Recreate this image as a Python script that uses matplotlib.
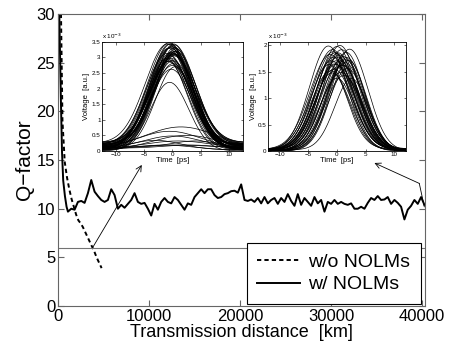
import numpy as np
import matplotlib
matplotlib.use("Agg")
import matplotlib.pyplot as plt
from matplotlib.ticker import FuncFormatter

plt.rcParams["font.family"] = ["Liberation Sans", "DejaVu Sans"]

# Q-factor sans NOLM (courbe pointillée)
dist_wo = [0, 250, 500, 750, 1000, 1250, 1500, 1750, 2000, 2250,
           2500, 2750, 3000, 3250, 3500, 3750, 4000, 4250, 4500, 4800]
q_wo = [60, 36, 19, 14.8, 13.2, 12.0, 11.0, 10.2, 9.4, 8.8,
        8.5, 8.1, 7.6, 7.1, 6.6, 6.1, 5.6, 5.0, 4.5, 3.9]

# Q-factor avec NOLM : début de la décroissance puis échantillons réguliers
dist_w_head = [0, 150, 330, 450, 580, 770, 950]
q_w_head = [45, 30, 21, 15.8, 12.9, 11.3, 10.2]
start_w = 1100
step_w = 366
q_w_tail = [
    9.7, 10.0, 9.9, 10.7, 10.8, 10.6, 11.6, 12.95, 11.75, 11.3,
    10.9, 10.7, 10.9, 12.0, 11.4, 10.0, 10.4, 10.1, 10.5, 10.9,
    11.6, 10.7, 10.5, 10.6, 10.0, 9.3, 10.5, 9.9, 10.7, 11.1,
    10.7, 10.55, 11.2, 10.9, 10.4, 9.9, 10.55, 10.4, 11.2, 11.6,
    12.0, 11.6, 12.0, 12.0, 11.4, 11.1, 11.2, 11.5, 11.6, 11.8,
    11.85, 11.65, 12.5, 10.9, 10.8, 10.95, 10.7, 11.1, 10.55, 11.2,
    10.55, 10.9, 11.1, 10.5, 11.1, 10.7, 11.5, 10.8, 10.3, 11.5,
    10.4, 11.1, 10.7, 10.3, 11.2, 10.55, 10.9, 9.7, 10.7, 10.5,
    10.9, 10.5, 10.7, 10.5, 10.4, 10.55, 10.0, 10.0, 10.2, 10.0,
    10.6, 11.1, 10.9, 11.3, 10.9, 10.95, 11.2, 10.5, 10.9, 10.6,
    10.2, 8.9, 9.9, 10.3, 10.9, 10.5, 11.2, 10.4,
]
dist_w = dist_w_head + [start_w + i * step_w for i in range(len(q_w_tail))]
q_w = q_w_head + q_w_tail

q_limit = 6

# Impulsions (inset gauche) : amplitude, centre [ps], largeur [ps], piédestal  (unités 1e-3)
left_amp = [3.38, 3.31, 3.27, 3.24, 3.20, 3.18, 3.15, 3.13, 3.10, 3.07, 3.05, 3.02,
            3.00, 2.97, 2.95, 2.92, 2.90, 2.87, 2.84, 2.80, 2.76, 2.72, 2.68, 2.63,
            2.58, 2.52, 3.35, 3.22, 3.09, 2.98, 2.86, 2.78, 3.16, 3.04, 2.93, 2.70,
            2.20,
            0.72, 0.55, 0.48, 0.38, 0.30, 0.26, 0.20, 0.16, 0.12, 0.10]
left_ctr = [-0.3, 0.2, -0.6, 0.4, -0.1, -0.9, 0.5, -0.4, 0.1, -0.7, 0.3, -0.2,
            0.6, -0.5, 0.0, -1.0, 0.4, -0.3, 0.2, -0.8, 0.1, -0.4, 0.5, -0.6,
            0.0, -0.2, -0.5, 0.3, -0.1, 0.6, -0.7, 0.2, -0.3, 0.4, -0.9, 0.1,
            -0.5,
            1.5, -0.5, 2.5, 0.0, -3.0, 1.0, 4.0, -1.5, 0.5, 3.0]
left_sig = [3.7, 3.6, 3.8, 3.5, 3.7, 3.9, 3.6, 3.8, 3.5, 3.7, 3.6, 3.9,
            3.5, 3.7, 3.8, 3.6, 3.7, 3.5, 3.9, 3.6, 3.8, 3.7, 3.5, 3.6,
            3.8, 3.7, 3.6, 3.8, 3.5, 3.7, 3.6, 3.9, 3.7, 3.5, 3.8, 3.6,
            3.4,
            6.5, 5.5, 6.0, 5.0, 4.5, 6.0, 4.0, 5.0, 7.0, 4.5]
left_base = [0.05, 0.12, 0.20, 0.08, 0.15, 0.25, 0.03, 0.18, 0.10, 0.22, 0.06, 0.14,
             0.28, 0.09, 0.17, 0.04, 0.21, 0.11, 0.26, 0.07, 0.13, 0.19, 0.02, 0.24,
             0.16, 0.10, 0.08, 0.18, 0.05, 0.22, 0.12, 0.27, 0.15, 0.03, 0.20, 0.10,
             0.0,
             0.05, 0.08, 0.02, 0.10, 0.04, 0.06, 0.12, 0.03, 0.07, 0.09]

# Impulsions (inset droit)
right_amp = [1.98, 1.95, 1.93, 1.90, 1.88, 1.86, 1.84, 1.82, 1.80, 1.78, 1.76, 1.74,
             1.72, 1.70, 1.68, 1.66, 1.64, 1.62, 1.60, 1.58, 1.55, 1.52, 1.49, 1.46,
             1.42, 1.38, 1.35, 1.97, 1.87, 1.77, 1.69, 1.59, 1.51, 1.83, 1.73, 1.63]
right_ctr = [-1.5, 0.0, 2.2, -0.8, 0.8, 1.6, -0.3, 0.4, -1.2, 1.1, 0.1, -0.6,
             2.0, 0.6, -1.0, 1.4, -0.2, 0.9, -1.4, 0.3, 1.8, -0.5, 0.7, -0.9,
             1.2, 0.0, 2.5, 0.5, -0.7, 1.7, -0.1, 1.0, -1.1, 0.2, 1.5, -0.4]
right_sig = [3.3, 3.4, 3.2, 3.5, 3.3, 3.1, 3.4, 3.2, 3.5, 3.3, 3.4, 3.2,
             3.1, 3.3, 3.5, 3.2, 3.4, 3.3, 3.1, 3.4, 3.2, 3.3, 3.5, 3.1,
             3.3, 3.0, 2.9, 3.3, 3.4, 3.2, 3.3, 3.1, 3.4, 3.2, 3.3, 3.5]
right_base = [0.01, 0.03, 0.00, 0.02, 0.04, 0.01, 0.02, 0.00, 0.03, 0.01, 0.02, 0.04,
              0.00, 0.01, 0.03, 0.02, 0.00, 0.01, 0.04, 0.02, 0.01, 0.03, 0.00, 0.02,
              0.01, 0.00, 0.02, 0.03, 0.01, 0.00, 0.02, 0.04, 0.01, 0.03, 0.00, 0.02]


def draw_pulses(axi, amps, ctrs, sigs, bases, t_lim):
    t = np.linspace(-t_lim, t_lim, 300)
    for a, c, s, b in zip(amps, ctrs, sigs, bases):
        v = (b + a * np.exp(-(t - c) ** 2 / (2 * s ** 2))) * 1e-3
        axi.plot(t, v, color="k", lw=0.5)


def style_inset(axi, t_lim, v_top, v_ticks):
    axi.set_xlim(-t_lim, t_lim)
    axi.set_ylim(0, v_top * 1e-3)
    axi.set_xticks([-10, -5, 0, 5, 10])
    axi.set_yticks([v * 1e-3 for v in v_ticks])
    axi.yaxis.set_major_formatter(FuncFormatter(lambda v, _: "%g" % round(v * 1e3, 2)))
    axi.tick_params(direction="in", top=True, right=True, labelsize=4.5,
                    length=1.8, width=0.4, pad=1)
    for s in axi.spines.values():
        s.set_linewidth(0.6)
    axi.set_xlabel("Time  [ps]", fontsize=5.5, labelpad=-0.3)
    axi.set_ylabel("Voltage  [a.u.]", fontsize=5.5, labelpad=1)
    axi.text(0, 1.01, r"x 10$^{-3}$", transform=axi.transAxes,
             fontsize=4.5, ha="left", va="bottom")


fig = plt.figure(figsize=(4.49, 3.51), dpi=100)
ax = fig.add_axes([0.129, 0.128, 0.817, 0.832])

ax.plot(dist_wo, q_wo, color="k", ls=(0, (2.2, 1.6)), lw=1.4, label="w/o NOLMs")
ax.plot(dist_w, q_w, color="k", lw=1.4, label="w/ NOLMs")
ax.axhline(q_limit, color="0.45", lw=0.8)

ax.set_xlim(0, 40300)
ax.set_ylim(0, 30)
ax.set_xticks([0, 10000, 20000, 30000, 40000])
ax.set_yticks([0, 5, 10, 15, 20, 25, 30])
ax.tick_params(direction="in", top=True, right=True, labelsize=12,
               length=4, color="0.4", pad=2)
for s in ax.spines.values():
    s.set_color("0.4")
ax.set_xlabel("Transmission distance  [km]", fontsize=13, labelpad=0)
ax.set_ylabel("Q\u2212factor", fontsize=15, labelpad=2)

leg = ax.legend(loc="lower right", bbox_to_anchor=(0.989, 0.007), fontsize=14,
                fancybox=False, edgecolor="k", framealpha=1, handlelength=2.2,
                handletextpad=0.4, borderpad=0.55, labelspacing=0.25, borderaxespad=0)
leg.get_frame().set_linewidth(0.8)

# flèches vers les diagrammes
arrow = dict(arrowstyle="->", lw=0.6, color="k", shrinkA=0, shrinkB=0)
ax.annotate("", xy=(9210, 14.5), xytext=(3840, 6.05), arrowprops=arrow)
ax.plot([40250, 39700], [10.2, 12.6], color="k", lw=0.6)
ax.annotate("", xy=(34770, 14.7), xytext=(39700, 12.6), arrowprops=arrow)

ax1 = fig.add_axes([0.227, 0.570, 0.314, 0.311])
draw_pulses(ax1, left_amp, left_ctr, left_sig, left_base, 12.5)
style_inset(ax1, 12.5, 3.5, [0, 0.5, 1, 1.5, 2, 2.5, 3, 3.5])

ax2 = fig.add_axes([0.597, 0.570, 0.307, 0.311])
draw_pulses(ax2, right_amp, right_ctr, right_sig, right_base, 12)
style_inset(ax2, 12, 2.07, [0, 0.5, 1, 1.5, 2])

fig.savefig("out.png", dpi=100)
